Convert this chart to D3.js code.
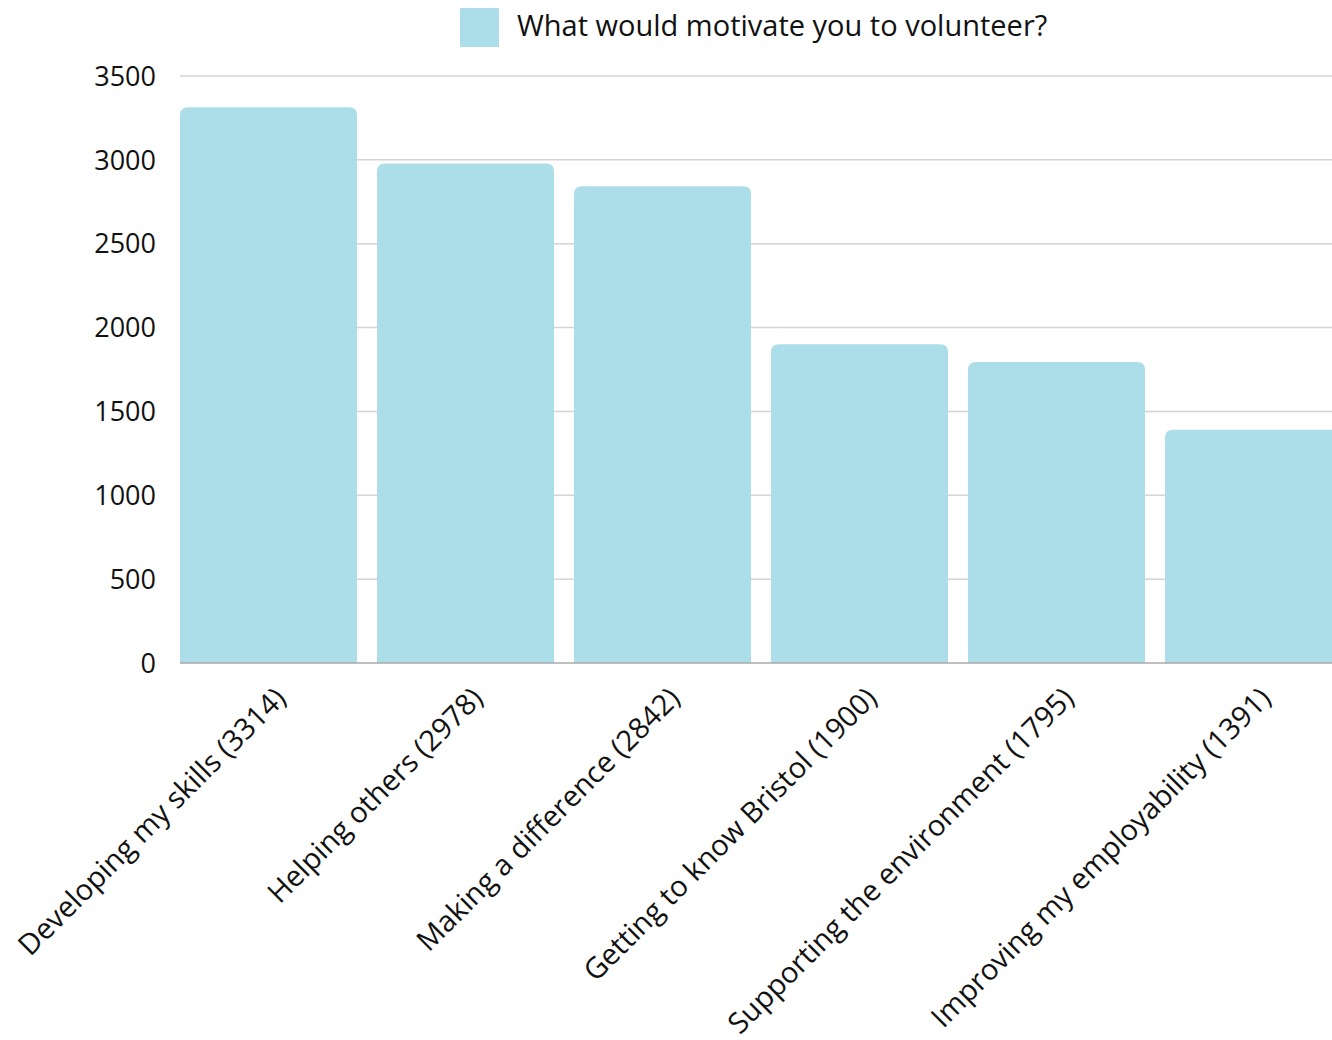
<!DOCTYPE html>
<html>
<head>
<meta charset="utf-8">
<script src="https://cdn.jsdelivr.net/npm/d3@7"></script>
<style>
    body { margin: 0; background: #fff; }
    svg { display: block; font-family: "Open Sans", "Noto Sans", sans-serif; }
</style>
</head>
<body>
<div class="container"></div>
<script>
var categories = [
    "Developing my skills (3314)",
    "Helping others (2978)",
    "Making a difference (2842)",
    "Getting to know Bristol (1900)",
    "Supporting the environment (1795)",
    "Improving my employability (1391)"
];
var values = [3314, 2978, 2842, 1900, 1795, 1391];
var yTicks = [0, 500, 1000, 1500, 2000, 2500, 3000, 3500];
var seriesName = "What would motivate you to volunteer?";

var width = 1332, height = 1040;
var barColor = "#acdeea";

var svg = d3.select(".container").append("svg")
    .attr("width", width)
    .attr("height", height);

var x = d3.scaleBand()
    .domain(categories)
    .range([180, 1342])
    .paddingInner(0.1015)
    .paddingOuter(0);

var y = d3.scaleLinear()
    .domain([0, 3500])
    .range([663, 76]);

// gridlines
svg.append("g")
    .selectAll("line")
    .data(yTicks.slice(1))
    .enter()
    .append("line")
    .attr("x1", 180)
    .attr("x2", width)
    .attr("y1", d => y(d))
    .attr("y2", d => y(d))
    .attr("stroke", "#d4d4d4")
    .attr("stroke-width", 1.5);

// y tick labels
svg.append("g")
    .selectAll("text")
    .data(yTicks)
    .enter()
    .append("text")
    .attr("x", 156)
    .attr("y", d => y(d))
    .attr("dy", "0.36em")
    .attr("text-anchor", "end")
    .attr("font-size", 27)
    .attr("fill", "#111")
    .text(d => d);

// bars with rounded top corners
var r = 8;
function barPath(d, i) {
    var x0 = x(categories[i]), w = x.bandwidth();
    var y0 = y(d), yb = y(0);
    return "M" + x0 + "," + yb +
        "V" + (y0 + r) +
        "Q" + x0 + "," + y0 + " " + (x0 + r) + "," + y0 +
        "H" + (x0 + w - r) +
        "Q" + (x0 + w) + "," + y0 + " " + (x0 + w) + "," + (y0 + r) +
        "V" + yb + "Z";
}
svg.append("g")
    .selectAll("path")
    .data(values)
    .enter()
    .append("path")
    .attr("d", barPath)
    .attr("fill", barColor);

// baseline
svg.append("line")
    .attr("x1", 180)
    .attr("x2", width)
    .attr("y1", y(0))
    .attr("y2", y(0))
    .attr("stroke", "#aaa")
    .attr("stroke-width", 1.5);

// x labels, rotated
svg.append("g")
    .selectAll("text")
    .data(categories)
    .enter()
    .append("text")
    .attr("transform", d => "translate(" + (x(d) + x.bandwidth() / 2 + 19) + ",700) rotate(-45)")
    .attr("text-anchor", "end")
    .attr("font-size", 29)
    .attr("fill", "#111")
    .text(d => d);

// legend
var legend = svg.append("g");
legend.append("rect")
    .attr("x", 460)
    .attr("y", 8)
    .attr("width", 39)
    .attr("height", 39)
    .attr("fill", barColor);
legend.append("text")
    .attr("x", 517)
    .attr("y", 36)
    .attr("font-size", 29)
    .attr("fill", "#111")
    .text(seriesName);
</script>
</body>
</html>
